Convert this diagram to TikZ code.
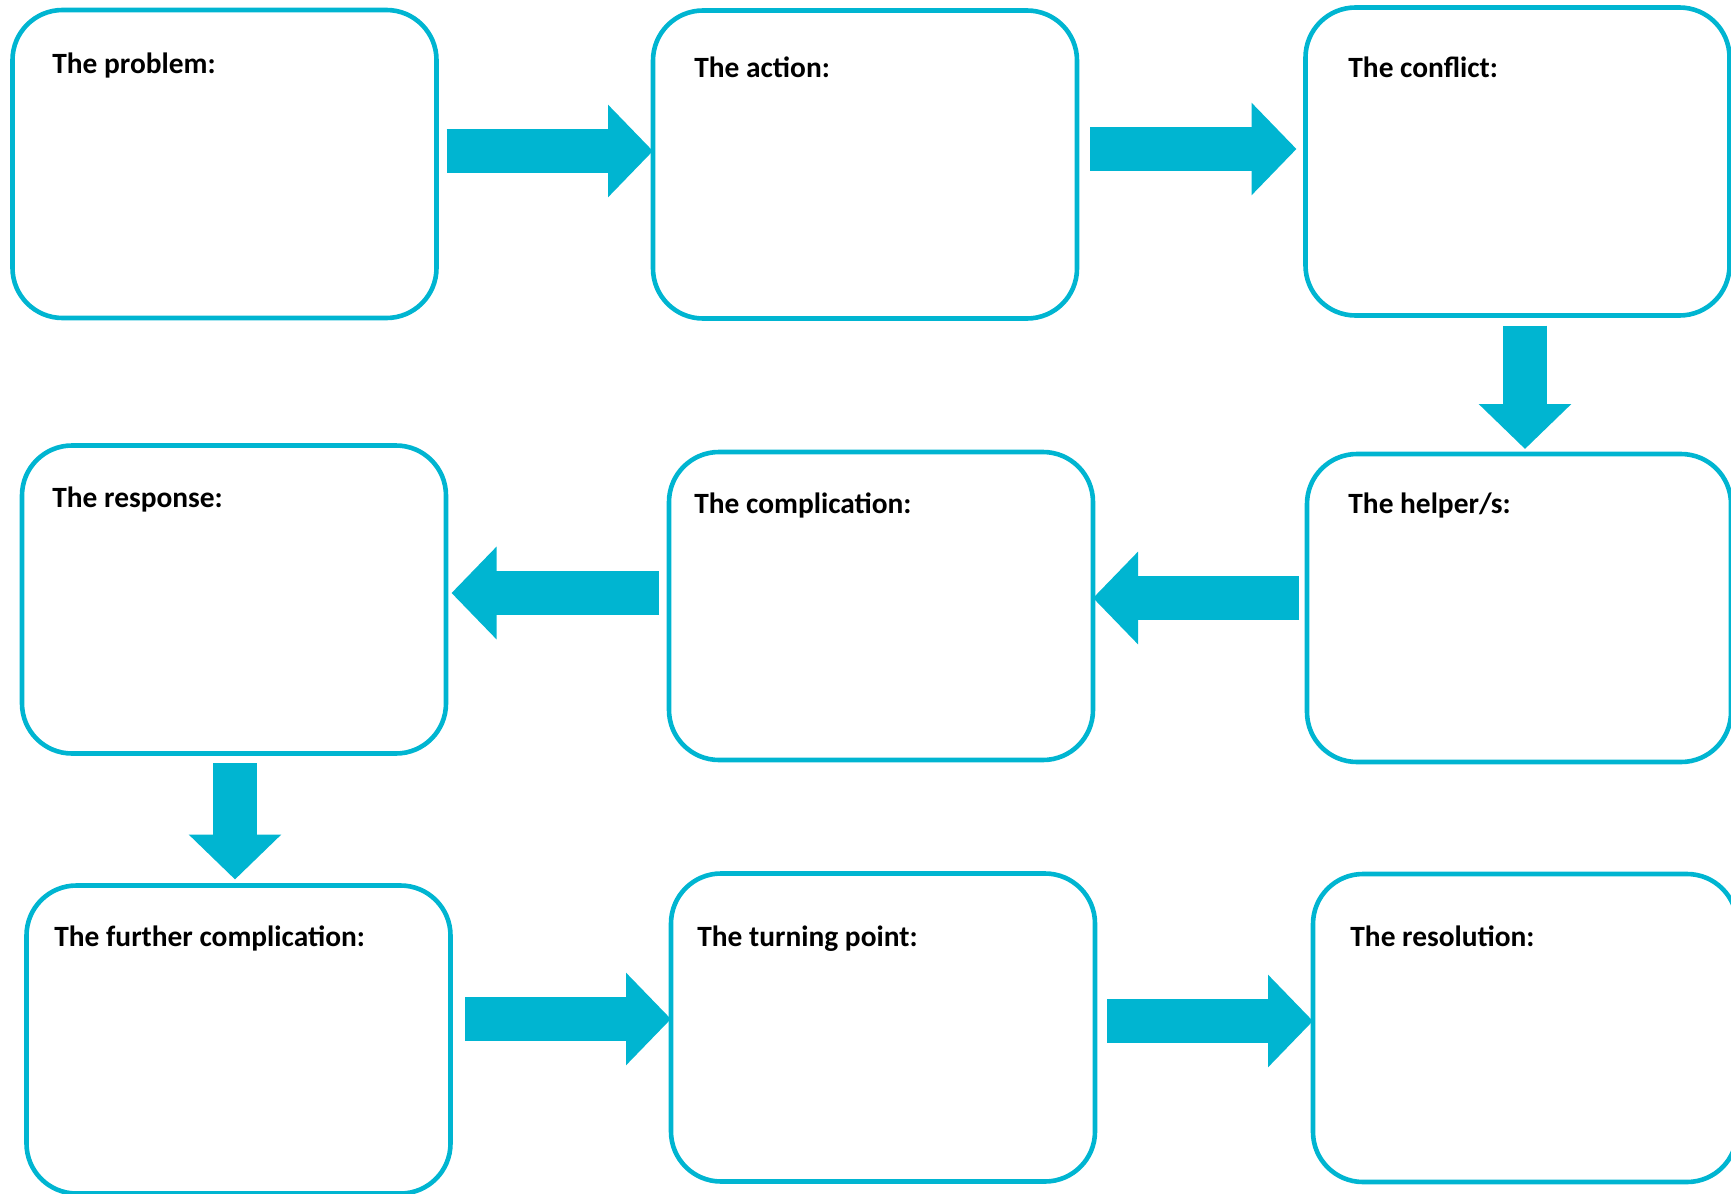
\documentclass[tikz,border=0pt]{standalone}
\usepackage{fontspec}
\setmainfont{Carlito}
\usetikzlibrary{arrows.meta}
\definecolor{plotcyan}{RGB}{0,181,209}
\tikzset{
  stage/.style={draw=plotcyan, line width=2.3pt, rounded corners=25pt, minimum width=212pt, minimum height=154pt, inner sep=0pt, outer sep=0pt},
  stagetitle/.style={anchor=base west, inner sep=0pt, font=\fontsize{14.7}{18}\selectfont\bfseries},
  flow/.style={draw=plotcyan, line width=22pt, -{Triangle[length=22.5pt, width=45pt, fill=plotcyan]}}
}
\begin{document}
\begin{tikzpicture}[x=0.5pt,y=-0.5pt]
\useasboundingbox (0,0) rectangle (1731,1194);
\clip (0,0) rectangle (1731,1194);
% boxes
\node[stage] (problem) at (224.5,164) {};
\node[stage] (action) at (865,164.5) {};
\node[stage] (conflict) at (1517.5,161.5) {};
\node[stage] (response) at (234,599.5) {};
\node[stage] (complication) at (881,606) {};
\node[stage] (helper) at (1519,608) {};
\node[stage] (further) at (238.5,1039.5) {};
\node[stage] (turning) at (883,1027.5) {};
\node[stage] (resolution) at (1525,1028) {};
% titles
\node[stagetitle] (t-problem) at (52,73.5) {The problem:};
\node[stagetitle] (t-action) at (694,77.5) {The action:};
\node[stagetitle] (t-conflict) at (1348,77.5) {The conflict:};
\node[stagetitle] (t-response) at (52,507.5) {The response:};
\node[stagetitle] (t-complication) at (694,513.5) {The complication:};
\node[stagetitle] (t-helper) at (1348,513.5) {The helper/s:};
\node[stagetitle] (t-further) at (54,946.5) {The further complication:};
\node[stagetitle] (t-turning) at (697,946.5) {The turning point:};
\node[stagetitle] (t-resolution) at (1350,946.5) {The resolution:};
% block arrows
\draw[flow] ([xshift=5pt,yshift=6.5pt]problem.east) -- ([yshift=6.5pt]problem.east -| action.west);
\draw[flow] ([xshift=6.5pt,yshift=7.75pt]action.east) -- ([xshift=-4.5pt,yshift=7.75pt]action.east -| conflict.west);
\draw[flow] ([xshift=3.75pt,yshift=-5pt]conflict.south) -- ([xshift=3.75pt,yshift=2.5pt]conflict.south |- helper.north);
\draw[flow] ([xshift=-4pt,yshift=5pt]helper.west) -- ([yshift=5pt]helper.west -| complication.east);
\draw[flow] ([xshift=-5pt,yshift=6.5pt]complication.west) -- ([xshift=2.75pt,yshift=6.5pt]complication.west -| response.east);
\draw[flow] ([xshift=0.5pt,yshift=-4.75pt]response.south) -- ([xshift=0.5pt,yshift=3pt]response.south |- further.north);
\draw[flow] ([xshift=7.25pt,yshift=10.25pt]further.east) -- ([yshift=10.25pt]further.east -| turning.west);
\draw[flow] ([xshift=6pt,yshift=3.25pt]turning.east) -- ([yshift=3.25pt]turning.east -| resolution.west);
\end{tikzpicture}
\end{document}
